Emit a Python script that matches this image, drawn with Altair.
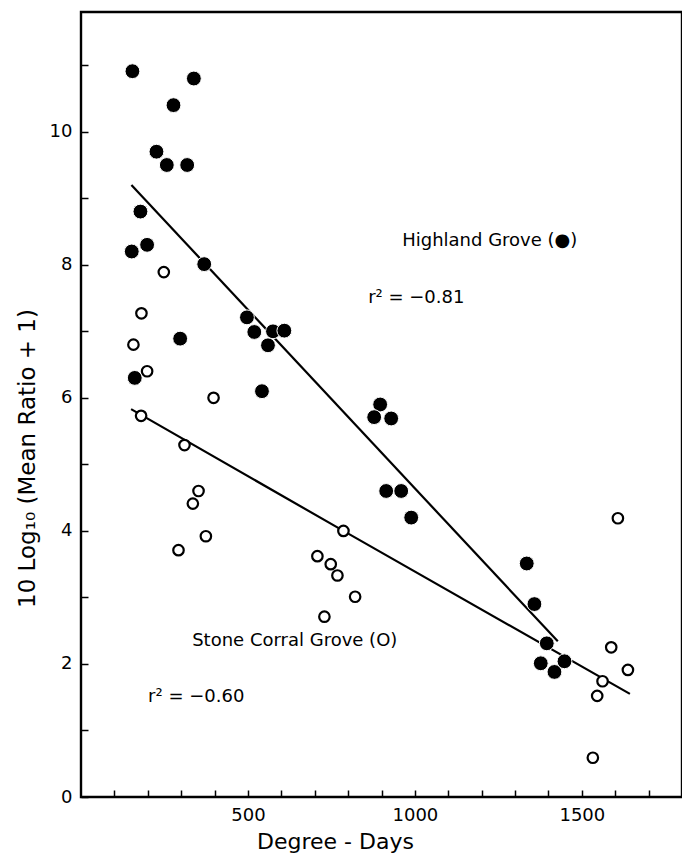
import altair as alt
import pandas as pd

# Highland Grove (filled circles)
hg_x = [154, 338, 277, 226, 257, 318, 178, 198, 152, 369, 497, 519, 575, 609, 560,
        297, 161, 542, 896, 878, 929, 914, 959, 989, 1335, 1358, 1395, 1377, 1418, 1448]
hg_y = [10.91, 10.80, 10.40, 9.70, 9.50, 9.50, 8.80, 8.30, 8.20, 8.01, 7.21, 6.99, 7.00, 7.01, 6.79,
        6.89, 6.30, 6.10, 5.90, 5.71, 5.69, 4.60, 4.60, 4.20, 3.51, 2.90, 2.31, 2.01, 1.88, 2.04]

# Stone Corral Grove (open circles)
sc_x = [248, 181, 157, 198, 397, 180, 310, 352, 335, 374, 292, 786, 708, 748, 768, 821, 729,
        1608, 1588, 1638, 1562, 1546, 1533]
sc_y = [7.89, 7.27, 6.80, 6.40, 6.00, 5.73, 5.29, 4.60, 4.41, 3.92, 3.71, 4.00, 3.62, 3.50, 3.33, 3.01, 2.71,
        4.19, 2.25, 1.91, 1.74, 1.52, 0.59]

# regression lines
hg_line_x = [151, 1428]
hg_line_y = [9.20, 2.34]
sc_line_x = [150, 786, 1644]
sc_line_y = [5.83, 4.00, 1.55]

# annotations
ann_text = ["Highland Grove (●)", "r² = −0.81", "Stone Corral Grove (O)", "r² = −0.60"]
ann_x = [962, 860, 333, 201]
ann_y = [8.36, 7.50, 2.35, 1.50]

x_ticks = list(range(100, 1800, 100))
y_ticks = list(range(0, 12))

FONT = "DejaVu Sans"

hg = pd.DataFrame({"x": hg_x, "y": hg_y})
sc = pd.DataFrame({"x": sc_x, "y": sc_y})
hgl = pd.DataFrame({"x": hg_line_x, "y": hg_line_y})
scl = pd.DataFrame({"x": sc_line_x, "y": sc_line_y})
ann = pd.DataFrame({"x": ann_x, "y": ann_y, "t": ann_text})

xscale = alt.Scale(domain=[0, 1800], nice=False, zero=False)
yscale = alt.Scale(domain=[0, 11.8], nice=False, zero=False)

xaxis = alt.Axis(
    values=x_ticks, offset=-7, tickSize=7, tickColor="black", tickWidth=1.5,
    domain=False, grid=False, format="d",
    labelExpr="datum.value % 500 == 0 ? datum.label : ''",
    labelOverlap=False, labelPadding=9, labelFont=FONT, labelFontSize=18,
    labelColor="black", title="Degree - Days", titleFont=FONT, titleFontSize=22,
    titleFontWeight="normal", titleColor="black", titleY=51, titleX=254,
    titleBaseline="middle", titleAlign="center",
)
yaxis = alt.Axis(
    values=y_ticks, offset=-7, tickSize=7, tickColor="black", tickWidth=1.5,
    domain=False, grid=False, format="d",
    labelExpr="datum.value % 2 == 0 ? datum.label : ''",
    labelOverlap=False, labelPadding=9, labelFont=FONT, labelFontSize=18,
    labelColor="black", title="10 Log₁₀ (Mean Ratio + 1)", titleFont=FONT,
    titleFontSize=23, titleFontWeight="normal", titleColor="black",
    titleX=-61, titleY=446, titleAngle=-90, titleBaseline="middle", titleAlign="center",
)

base_x = alt.X("x:Q", scale=xscale, axis=xaxis)
base_y = alt.Y("y:Q", scale=yscale, axis=yaxis)

line_hg = alt.Chart(hgl).mark_line(color="black", strokeWidth=2.2).encode(x=base_x, y=base_y)
line_sc = alt.Chart(scl).mark_line(color="black", strokeWidth=2.2).encode(x=base_x, y=base_y)

pts_sc = alt.Chart(sc).mark_point(
    shape="circle", filled=True, fill="white", stroke="black", strokeWidth=2.2, size=110, opacity=1
).encode(x=base_x, y=base_y)
pts_hg = alt.Chart(hg).mark_point(
    shape="circle", filled=True, fill="black", stroke="white", strokeWidth=1, size=220, opacity=1
).encode(x=base_x, y=base_y)

texts = alt.Chart(ann).mark_text(
    align="left", baseline="middle", font=FONT, fontSize=18, color="black"
).encode(x=base_x, y=base_y, text="t:N")

chart = alt.layer(line_hg, line_sc, pts_sc, pts_hg, texts).properties(
    width=601, height=785,
    background="white",
    autosize=alt.AutoSizeParams(type="none"),
    padding={"left": 73, "top": 4, "right": 0, "bottom": 58},
).configure_view(stroke="black", strokeWidth=2.4)

chart.save("out.html", embed_options={"renderer": "svg", "actions": False})
